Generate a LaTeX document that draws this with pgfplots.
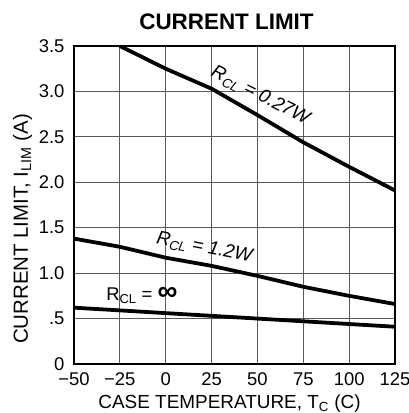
\documentclass[border=0pt]{standalone}
\usepackage{pgfplots}
\pgfplotsset{compat=1.18}
\usepackage{fontspec}
\setmainfont{Liberation Sans}

% current limit vs case temperature
\pgfplotstableread{
x y
-25 3.50
0   3.25
25  3.03
50  2.74
75  2.44
100 2.17
125 1.91
}\rlow
\pgfplotstableread{
x y
-50 1.38
-25 1.29
0   1.17
25  1.08
50  0.97
75  0.85
100 0.75
125 0.66
}\rmid
\pgfplotstableread{
x y
-50 0.62
-25 0.59
0   0.56
25  0.53
50  0.50
75  0.47
100 0.44
125 0.41
}\rinf

\begin{document}
\begin{tikzpicture}
\begin{axis}[
    scale only axis,
    width=321bp, height=318bp,
    xmin=-50, xmax=125,
    ymin=0, ymax=3.5,
    xtick={-50,-25,0,25,50,75,100,125},
    xticklabels={−50,−25,0,25,50,75,100,125},
    ytick={0,0.5,1,1.5,2,2.5,3,3.5},
    yticklabels={0,.5,1.0,1.5,2.0,2.5,3.0,3.5},
    major tick length=0pt,
    grid=major,
    grid style={line width=1pt, black!65},
    axis line style={line width=2.6pt},
    ticklabel style={font=\fontsize{18.5}{20}\selectfont},
    xticklabel style={yshift=-5bp},
    yticklabel style={xshift=-6bp},
    xlabel={CASE TEMPERATURE, T\textsubscript{C} (C)},
    xlabel style={font=\fontsize{19}{21}\selectfont, at={(axis description cs:0.5,0)},
        anchor=base, xshift=-5bp, yshift=-44bp},
    ylabel={CURRENT LIMIT, I\textsubscript{LIM} (A)},
    ylabel style={font=\fontsize{20.5}{22}\selectfont, at={(axis description cs:0,0.5)},
        anchor=base, xshift=-24bp, yshift=46bp},
]
\addplot[black, line width=3.8pt] table[x=x,y=y] {\rlow};
\addplot[black, line width=3.8pt] table[x=x,y=y] {\rmid};
\addplot[black, line width=3.8pt] table[x=x,y=y] {\rinf};
\node[rotate=-27, font=\itshape\fontsize{19}{20}\selectfont] at (axis cs:51.5,2.95) {R\textsubscript{CL} = 0.27W};
\node[rotate=-11, font=\itshape\fontsize{19}{20}\selectfont] at (axis cs:21,1.28) {R\textsubscript{CL} = 1.2W};
\node[font=\fontsize{18.5}{20}\selectfont] at (axis cs:-13,0.755) {R\textsubscript{CL} = {\bfseries\fontsize{28}{24}\selectfont ∞}};
\end{axis}
\node[anchor=base, font=\bfseries\fontsize{22.5}{24}\selectfont] at ([xshift=-8bp, yshift=16bp]current axis.north) {CURRENT LIMIT};
\pgfresetboundingbox
\path ([shift={(-74bp,-49bp)}]current axis.south west) rectangle ([shift={(14bp,46bp)}]current axis.north east);
\end{tikzpicture}
\end{document}
